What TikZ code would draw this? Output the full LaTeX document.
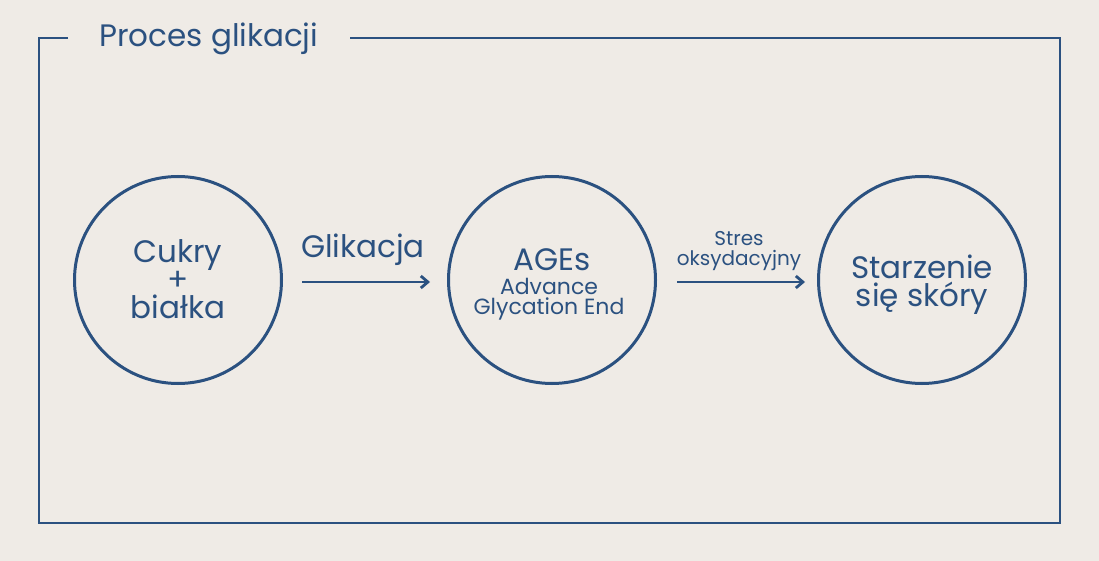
\documentclass[tikz,border=0pt]{standalone}
\usepackage{fontspec}
\setmainfont{Poppins}
\usetikzlibrary{arrows.meta}
\definecolor{bg}{RGB}{239,235,230}
\definecolor{navy}{RGB}{43,81,128}
\tikzset{
  stage/.style={circle, draw=navy, line width=3pt, minimum size=207pt, inner sep=0pt},
  flow/.style={draw=navy, line width=2.8pt, -{Straight Barb[length=7pt,width=12pt,line width=2.8pt]}},
  lbl/.style={text=navy, inner sep=0pt, anchor=base, align=center},
  big/.style={lbl, font=\fontsize{31}{28}\selectfont},
  mid/.style={lbl, font=\fontsize{22}{20}\selectfont},
  small/.style={lbl, font=\fontsize{20}{20}\selectfont},
  frame/.style={draw=navy, line width=2pt}
}
\begin{document}
\begin{tikzpicture}[x=1pt,y=-1pt]
\fill[bg] (0,0) rectangle (1099,561);
\useasboundingbox (0,0) rectangle (1099,561);
\coordinate (fa) at (68,38);
\coordinate (fb) at (39,38);
\coordinate (fc) at (39,523);
\coordinate (fd) at (1060,523);
\coordinate (fe) at (1060,38);
\coordinate (ff) at (350,38);
\draw[frame] (fa) -- (fb) -- (fc) -- (fd) -- (fe) -- (ff);
\node[big, anchor=base west] (title) at (99,47) {Proces glikacji};
\node[stage] (c1) at (178,280) {};
\node[stage] (c2) at (552,280) {};
\node[stage] (c3) at (922,280) {};
\node[big] (t1) at (178,318) {Cukry\\+\\białka};
\node[big] (t2a) at (552,270) {AGEs};
\node[mid] (t2b) at (549,314) {Advance\\Glycation End};
\node[big] (t3) at (922,306) {Starzenie\\się skóry};
\coordinate (a1s) at (302,282);
\coordinate (a1e) at (430,282);
\coordinate (a2s) at (677,282);
\coordinate (a2e) at (805,282);
\draw[flow] (a1s) -- (a1e);
\draw[flow] (a2s) -- (a2e);
\node[big] (g) at (363,257) {Glikacja};
\node[small] (s) at (739,265) {Stres\\oksydacyjny};
\end{tikzpicture}
\end{document}
